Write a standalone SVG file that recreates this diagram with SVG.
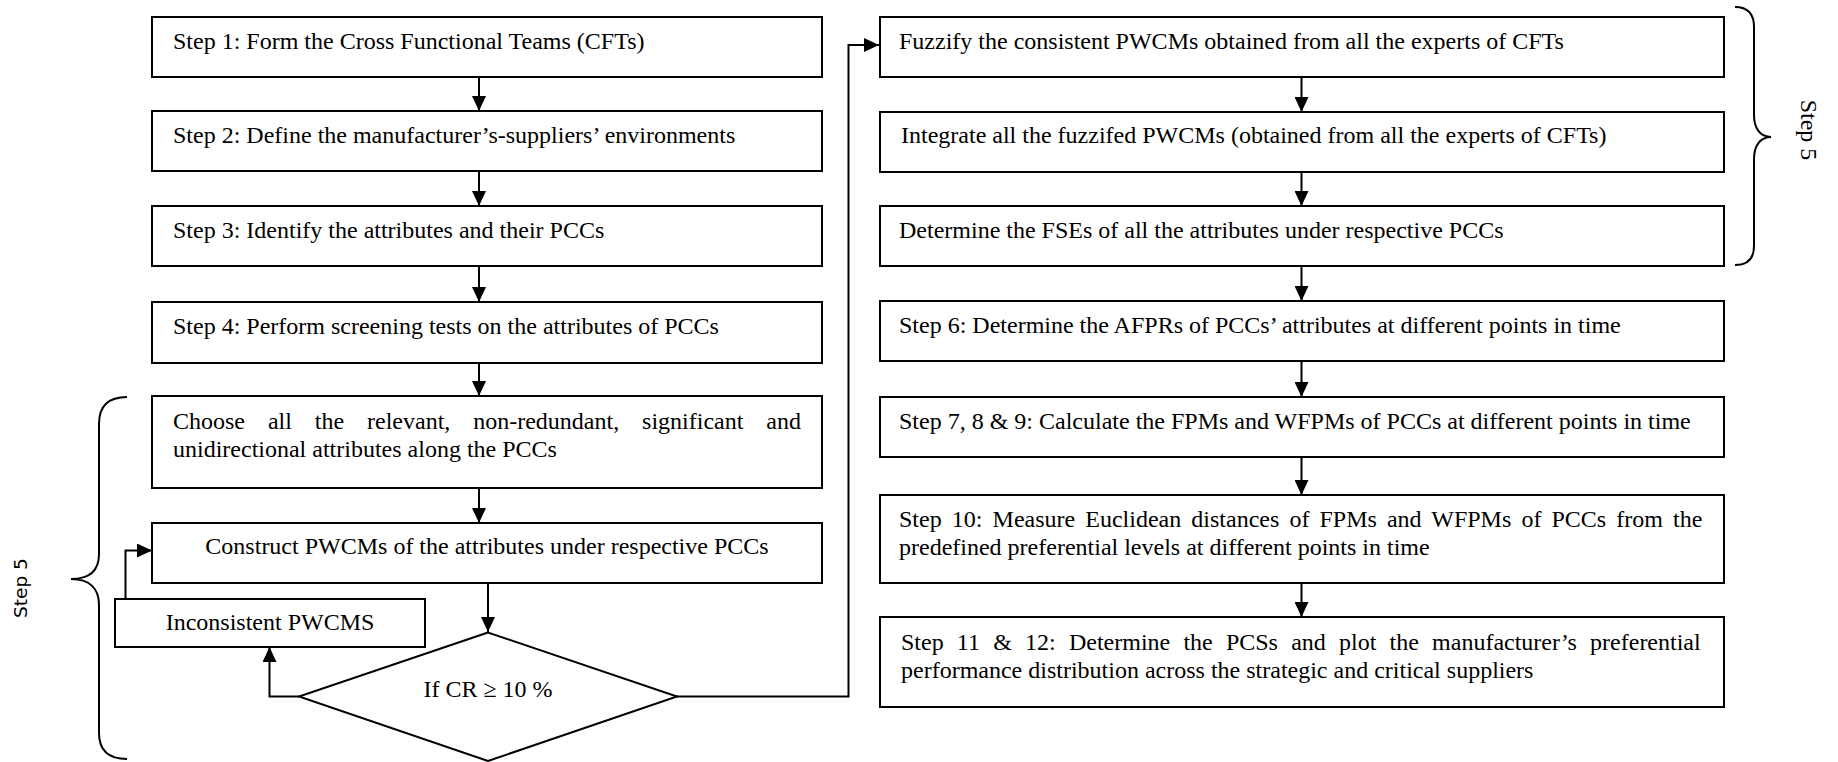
<svg xmlns="http://www.w3.org/2000/svg" width="1838" height="762" viewBox="0 0 1838 762">
  <defs>
    <marker id="ah" markerWidth="16" markerHeight="14" refX="15" refY="7" orient="auto" markerUnits="userSpaceOnUse">
      <path d="M0,0 L15,7 L0,14 Z" fill="#000"/>
    </marker>
    <style>
      .box { fill: #fff; stroke: #000; stroke-width: 2; }
      .t { font-family: "Liberation Serif", "Times New Roman", serif; font-size: 24px; fill: #000; }
      .c { text-anchor: middle; }
      .lnk { fill: none; stroke: #000; stroke-width: 2; }
      .arr { fill: none; stroke: #000; stroke-width: 2; marker-end: url(#ah); }
      .brace { fill: none; stroke: #000; stroke-width: 2; }
      .lbl-sans { font-family: "DejaVu Sans", Verdana, sans-serif; font-size: 18.5px; fill: #000; text-anchor: middle; }
    </style>
  </defs>
  <rect width="1838" height="762" fill="#fff"/>

  <!-- connectors -->
  <g id="connectors">
    <line class="arr" x1="479" y1="77" x2="479" y2="111"/>
    <line class="arr" x1="479" y1="171" x2="479" y2="206"/>
    <line class="arr" x1="479" y1="266" x2="479" y2="302"/>
    <line class="arr" x1="479" y1="363" x2="479" y2="396"/>
    <line class="arr" x1="479" y1="488" x2="479" y2="523"/>
    <line class="arr" x1="488" y1="583" x2="488" y2="632"/>
    <polyline class="arr" points="299,696.5 269.5,696.5 269.5,647"/>
    <polyline class="arr" points="125.5,599 125.5,550.5 152,550.5"/>
    <polyline class="arr" points="676,696.5 848.5,696.5 848.5,45 879,45"/>
    <line class="arr" x1="1301.5" y1="77" x2="1301.5" y2="112"/>
    <line class="arr" x1="1301.5" y1="172" x2="1301.5" y2="206"/>
    <line class="arr" x1="1301.5" y1="266" x2="1301.5" y2="301"/>
    <line class="arr" x1="1301.5" y1="361" x2="1301.5" y2="397"/>
    <line class="arr" x1="1301.5" y1="457" x2="1301.5" y2="495"/>
    <line class="arr" x1="1301.5" y1="583" x2="1301.5" y2="617"/>
  </g>

  <!-- left column -->
  <g id="step1">
    <rect class="box" x="152" y="17" width="670" height="60"/>
    <text class="t" x="173" y="49">Step 1: Form the Cross Functional Teams (CFTs)</text>
  </g>
  <g id="step2">
    <rect class="box" x="152" y="111" width="670" height="60"/>
    <text class="t" x="173" y="143">Step 2: Define the manufacturer’s-suppliers’ environments</text>
  </g>
  <g id="step3">
    <rect class="box" x="152" y="206" width="670" height="60"/>
    <text class="t" x="173" y="238">Step 3: Identify the attributes and their PCCs</text>
  </g>
  <g id="step4">
    <rect class="box" x="152" y="302" width="670" height="61"/>
    <text class="t" x="173" y="334">Step 4: Perform screening tests on the attributes of PCCs</text>
  </g>
  <g id="choose">
    <rect class="box" x="152" y="396" width="670" height="92"/>
    <text class="t" x="173" y="429" word-spacing="16.9">Choose all the relevant, non-redundant, significant and</text>
    <text class="t" x="173" y="457">unidirectional attributes along the PCCs</text>
  </g>
  <g id="construct">
    <rect class="box" x="152" y="523" width="670" height="60"/>
    <text class="t c" x="487" y="554">Construct PWCMs of the attributes under respective PCCs</text>
  </g>
  <g id="inconsistent">
    <rect class="box" x="115" y="599" width="310" height="48"/>
    <text class="t c" x="270" y="630">Inconsistent PWCMS</text>
  </g>
  <g id="decision">
    <polygon class="box" points="488,632.5 299,696.5 488,761 677,696.5"/>
    <text class="t c" x="488" y="697">If CR ≥ 10 %</text>
  </g>

  <!-- right column -->
  <g id="fuzzify">
    <rect class="box" x="880" y="17" width="844" height="60"/>
    <text class="t" x="899" y="49">Fuzzify the consistent PWCMs obtained from all the experts of CFTs</text>
  </g>
  <g id="integrate">
    <rect class="box" x="880" y="112" width="844" height="60"/>
    <text class="t" x="901" y="143">Integrate all the fuzzifed PWCMs (obtained from all the experts of CFTs)</text>
  </g>
  <g id="fse">
    <rect class="box" x="880" y="206" width="844" height="60"/>
    <text class="t" x="899" y="238">Determine the FSEs of all the attributes under respective PCCs</text>
  </g>
  <g id="step6">
    <rect class="box" x="880" y="301" width="844" height="60"/>
    <text class="t" x="899" y="333">Step 6: Determine the AFPRs of PCCs’ attributes at different points in time</text>
  </g>
  <g id="step7">
    <rect class="box" x="880" y="397" width="844" height="60"/>
    <text class="t" x="899" y="429">Step 7, 8 &amp; 9: Calculate the FPMs and WFPMs of PCCs at different points in time</text>
  </g>
  <g id="step10">
    <rect class="box" x="880" y="495" width="844" height="88"/>
    <text class="t" x="899" y="527" word-spacing="4.1">Step 10: Measure Euclidean distances of FPMs and WFPMs of PCCs from the</text>
    <text class="t" x="899" y="555">predefined preferential levels at different points in time</text>
  </g>
  <g id="step11">
    <rect class="box" x="880" y="617" width="844" height="90"/>
    <text class="t" x="901" y="650" word-spacing="7.2">Step 11 &amp; 12: Determine the PCSs and plot the manufacturer’s preferential</text>
    <text class="t" x="901" y="678">performance distribution across the strategic and critical suppliers</text>
  </g>

  <!-- step 5 braces -->
  <g id="brace-left">
    <path class="brace" d="M127,397 C108,397 99,407 99,424 L99,554 C99,571 89,579 71,579 C89,579 99,588 99,605 L99,733 C99,750 108,759 127,759"/>
    <text class="lbl-sans" transform="translate(27,588) rotate(-90)">Step 5</text>
  </g>
  <g id="brace-right">
    <path class="brace" d="M1735,7 C1748,7 1754,14 1754,27 L1754,115 C1754,128 1760,137 1771,137 C1760,137 1754,146 1754,159 L1754,246 C1754,258 1748,265 1735,265"/>
    <text class="t c" transform="translate(1801,130) rotate(90)">Step 5</text>
  </g>
</svg>
